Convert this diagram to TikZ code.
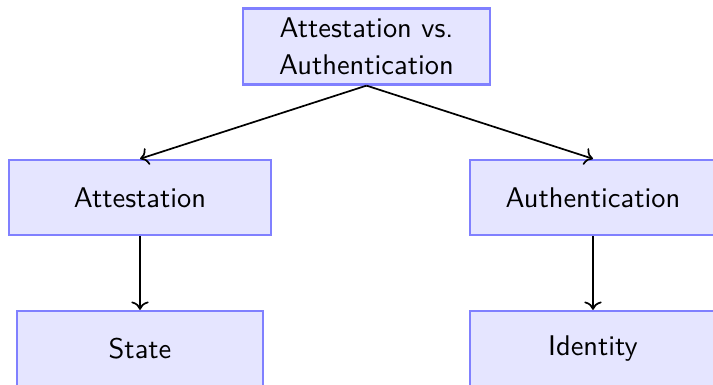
\documentclass[tikz,border=0pt]{standalone}
\usetikzlibrary{arrows.meta}
\renewcommand{\familydefault}{\sfdefault}

\tikzset{
    box/.style={draw=blue!50, fill=blue!10, thick, align=center,
        font=\sffamily, inner sep=2pt, minimum height=26.4pt},
    link/.style={->, semithick},
}

\begin{document}
\begin{tikzpicture}[x=0.3515pt, y=-0.3515pt]
	\useasboundingbox (0,0) rectangle (713,385);
	
	\node[box, minimum width=86.8pt, minimum height=26.7pt] (topic) at (366.5,46.5)
			{Attestation vs.\\[1pt]Authentication};
	
	\node[box, minimum width=92.1pt] (att) at (140,197.5) {Attestation};
	\node[box, minimum width=86.5pt] (state) at (140,348.5) {State};
	
	\node[box, minimum width=86.5pt] (auth) at (593,197.5) {Authentication};
	\node[box, minimum width=86.5pt] (ident) at (593,348.5) {Identity};
	
	\draw[link] (topic.south) -- (att.north);
	\draw[link] (topic.south) -- (auth.north);
	\draw[link] (att) -- (state);
	\draw[link] (auth) -- (ident);
\end{tikzpicture}
\end{document}
